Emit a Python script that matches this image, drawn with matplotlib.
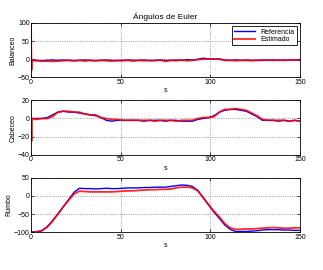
import numpy as np
import matplotlib.pyplot as plt

# tiempo (s)
t = [0, 0.3, 0.6, 3, 6, 9, 12, 15, 18, 21, 24, 27, 30, 33, 36, 39, 42, 45, 48,
     51, 54, 57, 60, 63, 66, 69, 72, 75, 78, 81, 84, 87, 90, 93, 96, 99, 102,
     105, 108, 111, 114, 117, 120, 123, 126, 129, 132, 135, 138, 141, 144, 147, 150]

bal_ref = [-2, -2, -2, -3, -4, -3, -2, -3, -2, -3, -4, -3, -2, -3, -4, -3, -2, -3,
           -4, -3, -2, -3, -3, -2, -4, -3, -2, -3, -3, -2, -3, -1, -2, 0, 3, 1, 0,
           1, -2, -3, -2, -3, -2, -3, -3, -2, -3, -2, -3, -2, -3, -2, -3]
bal_est = [95, -30, -3, -4, -5, -5, -6, -5, -4, -3, -4, -3, -5, -3, -4, -3, -4, -5,
           -3, -4, -3, -5, -3, -4, -3, -4, -2, -6, -3, -4, -2, -4, -3, -1, 0, 1, 1,
           0, -3, -3, -4, -3, -3, -4, -3, -3, -2, -3, -2, -3, -2, -2, -1]

cab_ref = [0, 0, 0, 0, 0, 1, 4, 7, 8, 7, 7, 6, 5, 4, 3, 1, -2, -3, -2, -2, -2,
           -2, -2, -3, -2, -2, -2, -3, -2, -2, -3, -3, -3, -1, 0, 1, 3, 7, 9, 10,
           10, 9, 8, 5, 2, -2, -2, -2, -3, -2, -3, -2, -3]
cab_est = [0, -25, 0, -1, 0, 0, 2, 7, 8, 8, 7, 7, 5, 4, 4, 1, 0, -1, -1, -2, -2,
           -2, -2, -2, -2, -3, -2, -2, -2, -3, -2, -2, -2, 0, 1, 1, 2, 7, 10, 10,
           11, 10, 9, 6, 3, -1, -2, -2, -2, -2, -3, -2, -3]

rum_ref = [-99, -99, -99, -99, -96, -85, -68, -50, -30, -10, 10, 21, 20, 20, 19,
           20, 21, 20, 20, 21, 22, 22, 22, 23, 23, 24, 24, 24, 26, 28, 30, 29, 26,
           15, -5, -25, -45, -62, -80, -92, -98, -98, -98, -97, -96, -94, -93,
           -93, -93, -94, -94, -95, -95]
rum_est = [-100, -100, -100, -99, -96, -86, -70, -50, -30, -12, 5, 13, 12, 11, 11,
           11, 11, 11, 12, 13, 14, 14, 15, 16, 17, 17, 18, 18, 19, 22, 24, 24, 22,
           14, -5, -24, -42, -58, -76, -88, -92, -92, -91, -91, -90, -89, -88,
           -87, -88, -89, -89, -88, -88]

plt.rcParams['font.family'] = 'Liberation Sans'
plt.rcParams['font.size'] = 5

fig, axs = plt.subplots(3, 1, figsize=(3.23, 2.70), dpi=100)
fig.subplots_adjust(left=0.096, right=0.929, top=0.915, bottom=0.14, hspace=0.42)

datos = [(bal_ref, bal_est, 'Balanceo', (-50, 100), [-50, 0, 50, 100]),
         (cab_ref, cab_est, 'Cabeceo', (-40, 20), [-40, -20, 0, 20]),
         (rum_ref, rum_est, 'Rumbo', (-100, 50), [-100, -50, 0, 50])]

for ax, (ref, est, nombre, lim, ticks) in zip(axs, datos):
    ax.plot(t, ref, color='blue', lw=1.0, label='Referencia')
    ax.plot(t, est, color='red', lw=1.3, alpha=0.85, label='Estimado')
    ax.set_xlim(0, 150)
    ax.set_ylim(*lim)
    ax.set_yticks(ticks)
    ax.set_xticks([0, 50, 100, 150])
    ax.grid(True, linestyle=':', color='gray', lw=0.6)
    ax.set_xlabel('s', labelpad=1)
    ax.set_ylabel(nombre, labelpad=1)
    ax.tick_params(length=2, width=0.5, pad=1, direction='in', top=True, right=True)
    for s in ax.spines.values():
        s.set_linewidth(0.6)

axs[0].set_title('Ángulos de Euler', pad=3)
leg = axs[0].legend(loc='upper right', fancybox=False, edgecolor='black',
                    framealpha=1, handlelength=3, borderpad=0.3, labelspacing=0.1)
leg.get_frame().set_linewidth(0.6)

fig.savefig('out.png', dpi=100)
